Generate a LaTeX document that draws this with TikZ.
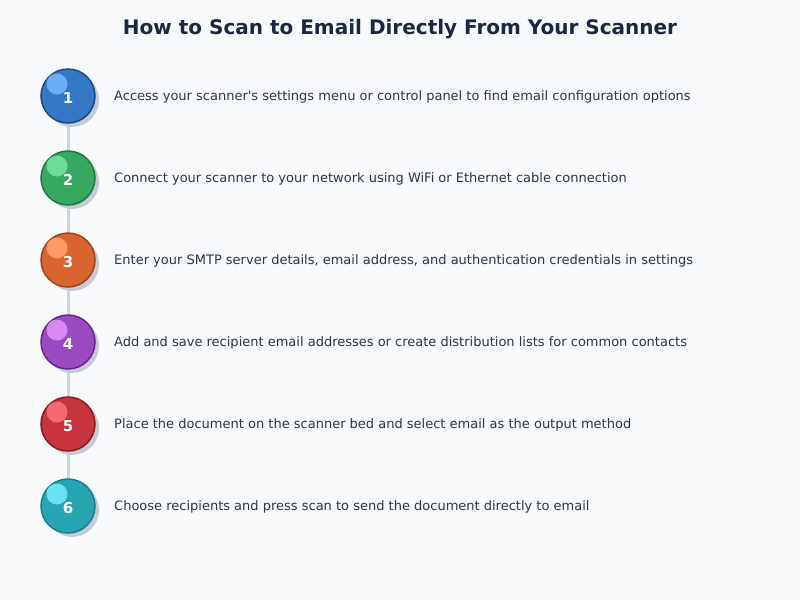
\documentclass[tikz,border=0pt]{standalone}
\usepackage{fontspec}
\setmainfont{DejaVu Sans}
\definecolor{bg}{HTML}{F8FAFC}
\definecolor{titlec}{HTML}{1B2845}
\definecolor{textc}{HTML}{2D3748}
\definecolor{linec}{HTML}{CBD5E1}
\definecolor{shadowc}{HTML}{C5CAD6}
\definecolor{fa}{HTML}{3579C6}\definecolor{ba}{HTML}{1B4A8C}\definecolor{ha}{HTML}{6AAEF5}
\definecolor{fb}{HTML}{36A862}\definecolor{bb}{HTML}{1B7A3C}\definecolor{hb}{HTML}{6EDC98}
\definecolor{fc}{HTML}{D8652F}\definecolor{bc}{HTML}{A2421A}\definecolor{hc}{HTML}{FF9A66}
\definecolor{fd}{HTML}{9B4BBF}\definecolor{bd}{HTML}{6A2590}\definecolor{hd}{HTML}{D788F2}
\definecolor{fe}{HTML}{C7333E}\definecolor{be}{HTML}{8E1A22}\definecolor{he}{HTML}{F36A74}
\definecolor{ff}{HTML}{27A5B3}\definecolor{bf}{HTML}{157F8C}\definecolor{hf}{HTML}{6BE0EE}
\tikzset{
  stepcirc/.style={circle, minimum size=54pt, inner sep=0pt, line width=1.5pt},
  shadowcirc/.style={circle, minimum size=54pt, inner sep=0pt, fill=shadowc},
  hilite/.style={circle, minimum size=21pt, inner sep=0pt},
  numtext/.style={text=white, font=\bfseries\fontsize{15}{18}\selectfont},
  steptext/.style={anchor=west, text=textc, font=\fontsize{13}{16}\selectfont, inner sep=0pt},
  conn/.style={draw=linec, line width=3pt},
}
\begin{document}
\begin{tikzpicture}[x=1pt,y=-1pt]
\fill[bg] (0,0) rectangle (800,600);
\useasboundingbox (0,0) rectangle (800,600);
\node[text=titlec, font=\bfseries\fontsize{20}{24}\selectfont] (title) at (400,29.5) {How to Scan to Email Directly From Your Scanner};
\foreach \i/\y in {1/96,2/178,3/260,4/342,5/424,6/506}{
  \coordinate (c\i) at (68,\y);
}
\draw[conn] (c1) -- (c2);
\draw[conn] (c2) -- (c3);
\draw[conn] (c3) -- (c4);
\draw[conn] (c4) -- (c5);
\draw[conn] (c5) -- (c6);
\foreach \i/\y/\f/\b/\h/\t in {
 1/96/fa/ba/ha/{Access your scanner\textquotesingle s settings menu or control panel to find email configuration options},
 2/178/fb/bb/hb/{Connect your scanner to your network using WiFi or Ethernet cable connection},
 3/260/fc/bc/hc/{Enter your SMTP server details, email address, and authentication credentials in settings},
 4/342/fd/bd/hd/{Add and save recipient email addresses or create distribution lists for common contacts},
 5/424/fe/be/he/{Place the document on the scanner bed and select email as the output method},
 6/506/ff/bf/hf/{Choose recipients and press scan to send the document directly to email}}{
  \node[shadowcirc] (s\i) at (72,\y+4) {};
  \node[stepcirc, fill=\f, draw=\b] (n\i) at (68,\y) {};
  \node[hilite, fill=\h] (h\i) at (57,\y-12) {};
  \node[numtext] (num\i) at (68,\y+2) {\i};
  \node[steptext] (t\i) at (114,\y+1) {\t};
}
\end{tikzpicture}
\end{document}
